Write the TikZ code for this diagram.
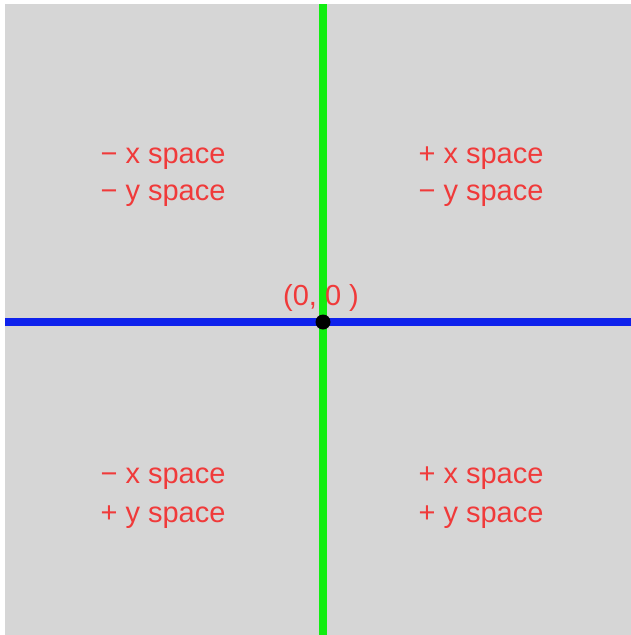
\documentclass[tikz,border=0pt]{standalone}
\usepackage{fontspec}
\setmainfont{Liberation Sans}
\definecolor{bggray}{RGB}{214,214,214}
\definecolor{lblred}{RGB}{240,58,58}
\definecolor{axgreen}{RGB}{16,238,16}
\definecolor{axblue}{RGB}{14,34,236}
\tikzset{
  lbl/.style={text=lblred, font=\fontsize{29}{34}\selectfont, anchor=base, inner sep=0pt},
  greenaxis/.style={draw=axgreen, line width=8pt},
  blueaxis/.style={draw=axblue, line width=8.5pt},
}
\begin{document}
\begin{tikzpicture}[x=1pt,y=-1pt]
\useasboundingbox (0,0) rectangle (631,635);
\fill[white] (0,0) rectangle (631,635);
\fill[bggray] (5,4) rectangle (631,635);
\coordinate (top) at (323,4);
\coordinate (bot) at (323,635);
\coordinate (lft) at (5,322);
\coordinate (rgt) at (631,322);
\draw[greenaxis] (top) -- (bot);
\draw[blueaxis] (lft) -- (rgt);
\node[circle, fill=black, minimum size=15pt, inner sep=0pt] (origin) at (323,322) {};
\node[lbl] (olabel) at (321,305) {(0, 0 )};
\node[lbl] (q1a) at (163,163) {− x space};
\node[lbl] (q1b) at (163,200) {− y space};
\node[lbl] (q2a) at (481,163) {+ x space};
\node[lbl] (q2b) at (481,200) {− y space};
\node[lbl] (q3a) at (163,483) {− x space};
\node[lbl] (q3b) at (163,522) {+ y space};
\node[lbl] (q4a) at (481,483) {+ x space};
\node[lbl] (q4b) at (481,522) {+ y space};
\end{tikzpicture}
\end{document}
